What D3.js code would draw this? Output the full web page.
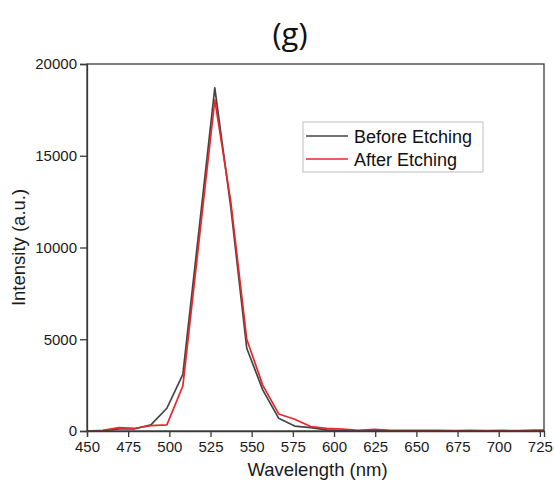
<!DOCTYPE html>
<html>
<head>
<meta charset="utf-8">
<script src="https://cdn.jsdelivr.net/npm/d3@7"></script>
<style>
  body { margin: 0; background: #fff; }
  svg text { font-family: "Liberation Sans", Arial, sans-serif; fill: #222; }
</style>
</head>
<body>
<div id="chart"></div>
<script>
// wavelength (nm) of each sample
var wavelengths = [450, 459.7, 469.4, 479.1, 488.8, 498.5, 508.2, 517.9, 527.6, 537.3,
  547.0, 556.7, 566.4, 576.1, 585.8, 595.5, 605.2, 614.9, 624.6, 634.3,
  644.0, 653.7, 663.4, 673.1, 682.8, 692.5, 702.2, 711.9, 721.6, 727.5];

var beforeEtching = [0, 20, 110, 120, 330, 1240, 3090, 10870, 18700, 12200,
  4510, 2240, 690, 270, 180, 60, 20, 10, 30, 10,
  10, 10, 10, 10, 10, 10, 10, 10, 10, 10];

var afterEtching = [0, 30, 180, 150, 290, 330, 2450, 10250, 18050, 12500,
  5000, 2500, 930, 640, 240, 150, 100, 40, 90, 30,
  40, 30, 30, 20, 30, 20, 30, 20, 50, 50];

var seriesNames = ["Before Etching", "After Etching"];
var seriesColors = ["#444444", "#e8262b"];

var xTicks = [450, 475, 500, 525, 550, 575, 600, 625, 650, 675, 700, 725];
var yTicks = [0, 5000, 10000, 15000, 20000];

var W = 554, H = 491;
var margin = {top: 64, right: 10, bottom: 60, left: 87};
var plotRight = 544, plotBottom = 431;

var svg = d3.select("#chart").append("svg")
  .attr("width", W)
  .attr("height", H);

var x = d3.scaleLinear().domain([450, 727.5]).range([margin.left, plotRight]);
var y = d3.scaleLinear().domain([0, 20000]).range([plotBottom, margin.top]);

// title
svg.append("text")
  .attr("x", 290).attr("y", 45)
  .attr("text-anchor", "middle")
  .style("font-family", "'Open Sans', 'Noto Sans', sans-serif")
  .style("font-size", "31px")
  .style("fill", "#111")
  .text("(g)");

svg.append("clipPath").attr("id", "plotclip")
  .append("rect")
  .attr("x", margin.left).attr("y", margin.top)
  .attr("width", plotRight - margin.left)
  .attr("height", plotBottom - margin.top);

// lines
var series = [beforeEtching, afterEtching];
var line = d3.line()
  .x(function (d, i) { return x(wavelengths[i]); })
  .y(function (d) { return y(d); });

svg.append("g").attr("clip-path", "url(#plotclip)")
  .selectAll("path")
  .data(series)
  .enter().append("path")
  .attr("d", line)
  .attr("fill", "none")
  .attr("stroke", function (d, i) { return seriesColors[i]; })
  .attr("stroke-width", 1.7)
  .attr("stroke-linejoin", "round");

// frame
svg.append("rect")
  .attr("x", margin.left).attr("y", margin.top)
  .attr("width", plotRight - margin.left)
  .attr("height", plotBottom - margin.top)
  .attr("fill", "none")
  .attr("stroke", "#3a3a3a")
  .attr("stroke-width", 1.3);

// axes
var xAxis = svg.append("g")
  .attr("transform", "translate(0," + plotBottom + ")")
  .call(d3.axisBottom(x).tickValues(xTicks).tickSize(6).tickPadding(4).tickFormat(d3.format("d")));

var yAxis = svg.append("g")
  .attr("transform", "translate(" + margin.left + ",0)")
  .call(d3.axisLeft(y).tickValues(yTicks).tickSize(7).tickPadding(3).tickFormat(d3.format("d")));

[xAxis, yAxis].forEach(function (a) {
  a.select(".domain").attr("stroke", "#3a3a3a").attr("stroke-width", 1.3);
  a.selectAll(".tick line").attr("stroke", "#3a3a3a").attr("stroke-width", 1.3);
  a.selectAll(".tick text")
    .style("font-family", "'Liberation Sans', Arial, sans-serif")
    .style("font-size", "15px")
    .style("fill", "#1a1a1a");
});

// axis titles
svg.append("text")
  .attr("x", (margin.left + plotRight) / 2 + 2)
  .attr("y", 476)
  .attr("text-anchor", "middle")
  .style("font-size", "18.5px")
  .style("fill", "#1a1a1a")
  .text("Wavelength (nm)");

svg.append("text")
  .attr("transform", "translate(25," + ((margin.top + plotBottom) / 2) + ") rotate(-90)")
  .attr("text-anchor", "middle")
  .style("font-size", "18.5px")
  .style("fill", "#1a1a1a")
  .text("Intensity (a.u.)");

// legend
var legend = svg.append("g");
legend.append("rect")
  .attr("x", 303).attr("y", 122)
  .attr("width", 180).attr("height", 50)
  .attr("fill", "#fff")
  .attr("stroke", "#c8c8c8")
  .attr("stroke-width", 1.2);

var rows = legend.selectAll("g.row")
  .data(seriesNames)
  .enter().append("g")
  .attr("class", "row")
  .attr("transform", function (d, i) { return "translate(306," + (136 + i * 23) + ")"; });

rows.append("line")
  .attr("x1", 0).attr("x2", 42)
  .attr("stroke", function (d, i) { return seriesColors[i]; })
  .attr("stroke-width", 1.7);

rows.append("text")
  .attr("x", 48).attr("y", 6.5)
  .style("font-size", "18px")
  .style("fill", "#111")
  .text(function (d) { return d; });
</script>
</body>
</html>
